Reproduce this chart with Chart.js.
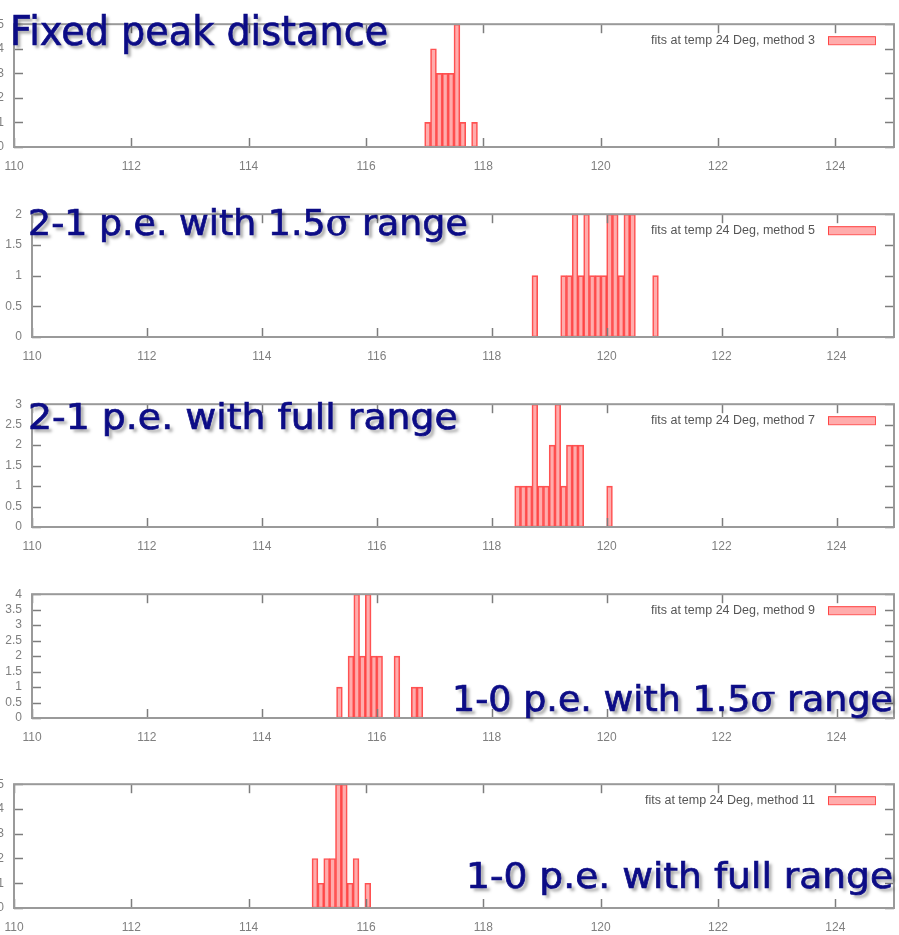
<!DOCTYPE html>
<html>
<head>
<meta charset="utf-8">
<script src="https://cdn.jsdelivr.net/npm/chart.js@4.4.1/dist/chart.umd.min.js"></script>
<style>
  body { margin: 0; background: #fff; width: 899px; height: 935px; overflow: hidden; position: relative; }
  canvas { position: absolute; }
  .title {
    position: absolute; white-space: nowrap; line-height: 1;
    font-family: 'DejaVu Sans', sans-serif; color: #0c0c86;
    -webkit-text-stroke: 0.7px #0c0c86;
    text-shadow: 3px 3px 3px rgba(0, 0, 0, 0.35);
    transform-origin: 0 0;
  }
  .title .sig { font-family: 'DejaVu Serif', serif; }
</style>
</head>
<body>
<script>
// histogram bins (left edge of each bin) and counts, one pair per fit method
const binWidth = 0.1;
const xTicks = [110, 112, 114, 116, 118, 120, 122, 124];

const m3Bins = [117.0, 117.1, 117.2, 117.3, 117.4, 117.5, 117.6, 117.8];
const m3Counts = [1, 4, 3, 3, 3, 5, 1, 1];

const m5Bins = [118.7, 119.2, 119.3, 119.4, 119.5, 119.6, 119.7, 119.8, 119.9, 120.0, 120.1, 120.2, 120.3, 120.4, 120.8];
const m5Counts = [1, 1, 1, 2, 1, 2, 1, 1, 1, 2, 2, 1, 2, 2, 1];

const m7Bins = [118.4, 118.5, 118.6, 118.7, 118.8, 118.9, 119.0, 119.1, 119.2, 119.3, 119.4, 119.5, 120.0];
const m7Counts = [1, 1, 1, 3, 1, 1, 2, 3, 1, 2, 2, 2, 1];

const m9Bins = [115.3, 115.5, 115.6, 115.7, 115.8, 115.9, 116.0, 116.3, 116.6, 116.7];
const m9Counts = [1, 2, 4, 2, 4, 2, 2, 2, 1, 1];

const m11Bins = [115.08, 115.18, 115.28, 115.38, 115.48, 115.58, 115.68, 115.78, 115.98];
const m11Counts = [2, 1, 2, 2, 5, 5, 1, 2, 1];

const legendLabels = [
  'fits at temp 24 Deg, method 3',
  'fits at temp 24 Deg, method 5',
  'fits at temp 24 Deg, method 7',
  'fits at temp 24 Deg, method 9',
  'fits at temp 24 Deg, method 11'
];
const yMaxes = [5, 2, 3, 4, 5];
const ySteps = [1, 0.5, 0.5, 0.5, 1];

const titleTexts = [
  'Fixed peak distance',
  '2-1 p.e. with 1.5σ range',
  '2-1 p.e. with full range',
  '1-0 p.e. with 1.5σ range',
  '1-0 p.e. with full range'
];

// layout of each panel's plot area in the page
const plotLefts = [14, 32, 32, 32, 14];
const plotTops = [13, 203, 393, 583, 773];
const plotBottoms = [147, 337, 527, 718, 908];
const plotRight = 894;
const Y_AXIS_W = 44, X_AXIS_H = 30, PAD_TOP = 6, PAD_RIGHT = 4;

const allBins = [m3Bins, m5Bins, m7Bins, m9Bins, m11Bins];
const allCounts = [m3Counts, m5Counts, m7Counts, m9Counts, m11Counts];

Chart.defaults.font.family = "'Liberation Sans', Arial, sans-serif";

const framePlugin = {
  id: 'frame',
  afterDatasetsDraw(chart) {
    const { ctx, chartArea: a, scales } = chart;
    const line = (x1, y1, x2, y2) => { ctx.beginPath(); ctx.moveTo(x1, y1); ctx.lineTo(x2, y2); ctx.stroke(); };
    ctx.save();
    ctx.strokeStyle = '#7d7d7d';
    ctx.lineWidth = 1.5;
    scales.x.ticks.forEach(t => {
      const px = Math.round(scales.x.getPixelForValue(t.value)) + 0.5;
      line(px, a.bottom, px, a.bottom - 9);
      line(px, a.top, px, a.top + 9);
    });
    scales.y.ticks.forEach(t => {
      const py = Math.round(scales.y.getPixelForValue(t.value)) + 0.5;
      line(a.left, py, a.left + 9, py);
      line(a.right, py, a.right - 9, py);
    });
    ctx.strokeStyle = '#9a9a9a';
    ctx.lineWidth = 2;
    ctx.strokeRect(a.left, a.top, a.width, a.height);

    // key in the upper right corner
    const label = chart.options.plugins.keyLabel;
    const ky = a.top + 16;
    ctx.fillStyle = '#555';
    ctx.font = "12.5px 'Liberation Sans', Arial, sans-serif";
    ctx.textAlign = 'right';
    ctx.textBaseline = 'middle';
    ctx.fillText(label, a.right - 79, ky);
    ctx.fillStyle = 'rgba(255, 90, 90, 0.5)';
    ctx.strokeStyle = 'rgba(255, 50, 50, 0.85)';
    ctx.lineWidth = 1;
    ctx.fillRect(a.right - 66, ky - 4, 47, 8);
    ctx.strokeRect(a.right - 66 + 0.5, ky - 4 + 0.5, 47, 8);
    ctx.restore();
  }
};

for (let i = 0; i < 5; i++) {
  const cv = document.createElement('canvas');
  const left = plotLefts[i] - Y_AXIS_W;
  const top = plotTops[i] - PAD_TOP;
  cv.width = plotRight + PAD_RIGHT - left;
  cv.height = plotBottoms[i] + X_AXIS_H - top;
  cv.style.left = left + 'px';
  cv.style.top = top + 'px';
  document.body.appendChild(cv);

  new Chart(cv.getContext('2d'), {
    type: 'bar',
    data: {
      datasets: [{
        data: allBins[i].map((b, k) => ({ x: b + binWidth / 2, y: allCounts[i][k] })),
        backgroundColor: 'rgba(255, 90, 90, 0.5)',
        borderColor: 'rgba(255, 50, 50, 0.85)',
        borderWidth: 1,
        borderSkipped: false,
        barPercentage: 1,
        categoryPercentage: 1
      }]
    },
    options: {
      responsive: false, animation: false,
      layout: { padding: { top: PAD_TOP, right: PAD_RIGHT, left: 0, bottom: 0 } },
      plugins: { legend: { display: false }, tooltip: { enabled: false }, keyLabel: legendLabels[i] },
      scales: {
        x: {
          type: 'linear', min: 110, max: 125, offset: false,
          grid: { display: false, drawTicks: false }, border: { display: false },
          afterBuildTicks: s => { s.ticks = xTicks.map(v => ({ value: v })); },
          afterFit: s => { s.height = X_AXIS_H; },
          ticks: { padding: 12, color: '#7f7f7f', font: { size: 12 }, maxRotation: 0, autoSkip: false, callback: v => String(v) }
        },
        y: {
          min: 0, max: yMaxes[i],
          grid: { display: false, drawTicks: false }, border: { display: false },
          afterFit: s => { s.width = Y_AXIS_W; },
          ticks: { stepSize: ySteps[i], autoSkip: false, padding: 10, color: '#7f7f7f', font: { size: 12 }, callback: v => String(v) }
        }
      }
    },
    plugins: [framePlugin]
  });
}

// big overlay titles
const titleLefts = [10, 28, 28, 452, 466];
const titleRights = [388, 468, 458, 893, 893];
const titleBaselines = [46, 236, 430, 712, 889];
const titleSizes = [41, 35, 35, 35, 35];

titleTexts.forEach((t, i) => {
  const d = document.createElement('div');
  d.className = 'title';
  d.innerHTML = t.replace('σ', '<span class="sig">σ</span>');
  d.style.fontSize = titleSizes[i] + 'px';
  d.style.left = titleLefts[i] + 'px';
  d.style.top = (titleBaselines[i] - 0.846 * titleSizes[i]) + 'px';
  document.body.appendChild(d);
  const w = d.getBoundingClientRect().width;
  d.style.transform = 'scaleX(' + ((titleRights[i] - titleLefts[i]) / w).toFixed(3) + ')';
});
</script>
</body>
</html>
